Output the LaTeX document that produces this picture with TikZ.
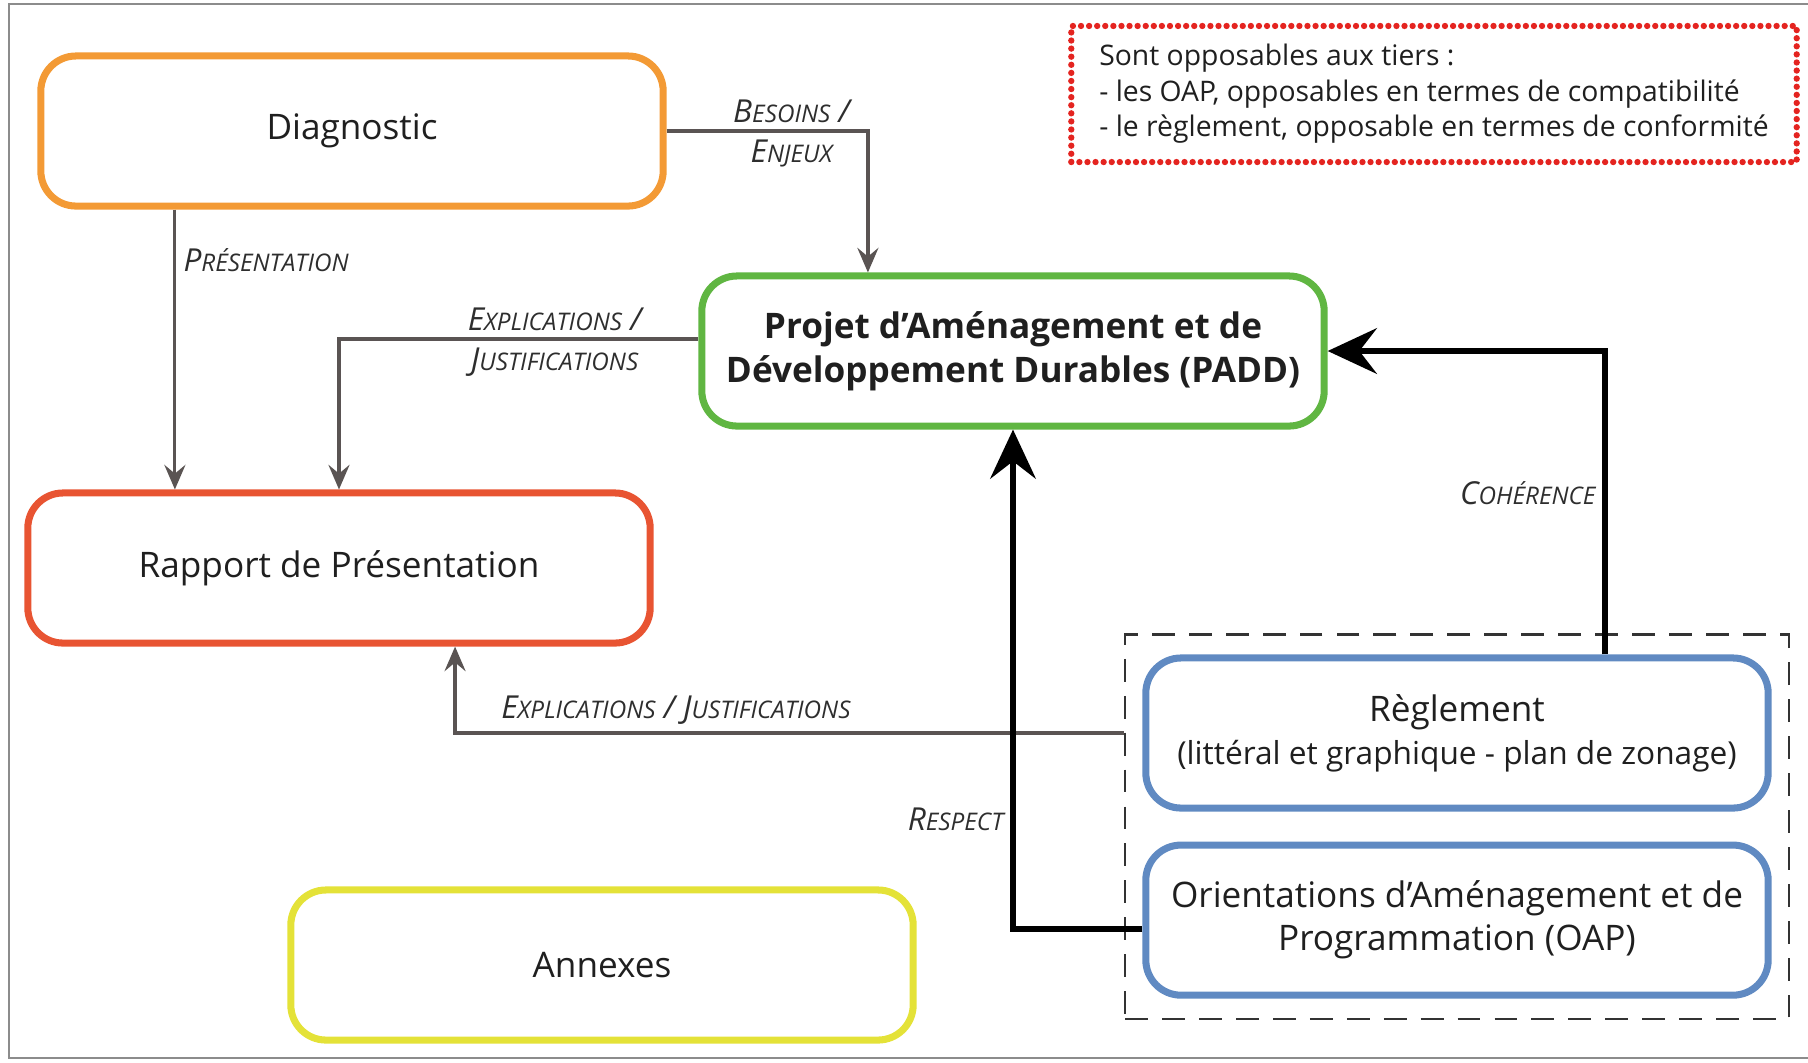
\documentclass[tikz,border=0pt]{standalone}
\usepackage{fontspec}
\setmainfont{Open Sans}
\usetikzlibrary{arrows.meta,positioning,fit}

\definecolor{diagorange}{RGB}{243,154,53}
\definecolor{paddvert}{RGB}{96,182,66}
\definecolor{rapportrouge}{RGB}{232,84,50}
\definecolor{annexjaune}{RGB}{228,226,56}
\definecolor{reglbleu}{RGB}{96,138,194}
\definecolor{liengris}{RGB}{90,84,83}
\definecolor{notarouge}{RGB}{228,36,32}

% fausses petites capitales pour les etiquettes
\newcommand{\pcap}[2]{#1{\fontsize{6.9}{8}\selectfont #2}}

\begin{document}
\begin{tikzpicture}[x=0.01cm, y=-0.01cm,
    bloc/.style={draw, line width=2pt, rounded corners=10pt, minimum width=6.22cm, minimum height=1.5cm, align=center, text=black!88, font=\fontsize{10}{12.2}\selectfont},
    lien/.style={draw=liengris, line width=0.9pt, -{Stealth[length=7pt, width=6pt, inset=2.5pt]}},
    fort/.style={draw=black, line width=1.5pt, -{Stealth[length=14pt, width=13pt, inset=5pt]}},
    etiq/.style={font=\itshape\fontsize{9}{11}\selectfont, text=black!82, inner sep=2pt}]

    \useasboundingbox (0,0) rectangle (1808,1062);
    \draw[black!45, line width=0.8pt] (9,4) rectangle (1812,1058);

    \node[bloc, draw=diagorange] (diag) at (352,131) {Diagnostic};
    \node[bloc, draw=paddvert, font=\bfseries\fontsize{10}{12.6}\selectfont] (padd) at (1013,351) {Projet d’Aménagement et de\\Développement Durables (PADD)};
    \node[bloc, draw=rapportrouge] (rapport) at (339,568) {Rapport de Présentation};
    \node[bloc, draw=annexjaune] (annexes) at (602,965) {Annexes};
    \node[bloc, draw=reglbleu] (regl) at (1457,733) {Règlement\\{\fontsize{9}{11}\selectfont (littéral et graphique - plan de zonage)}};
    \node[bloc, draw=reglbleu, below of=regl, node distance=1.87cm] (oap) {Orientations d’Aménagement et de\\Programmation (OAP)};

    \node[draw=black!80, line width=0.6pt, dash pattern=on 6.5pt off 4pt, fit=(regl)(oap), inner xsep=0.17cm, inner ysep=0.2cm] (groupe) {};

    \node[draw=notarouge, line width=1.8pt, dash pattern=on 0pt off 2.3pt, line cap=round, minimum width=7.25cm, minimum height=1.36cm, align=left, text=black!88, font=\fontsize{8.05}{10.1}\selectfont] (note) at (1434,94) {Sont opposables aux tiers :\\- les OAP, opposables en termes de compatibilité\\- le règlement, opposable en termes de conformité};

    \draw[lien] (diag.east) -| ([xshift=-1.45cm]padd.north)
        node[etiq, pos=0.31, above] {\pcap{B}{ESOINS} /}
        node[etiq, pos=0.31, below] {\pcap{E}{NJEUX}};
    \draw[lien] ([xshift=-1.77cm]diag.south) coordinate (p) -- (p |- rapport.north)
        node[etiq, pos=0.18, right] {\pcap{P}{RÉSENTATION}};
    \draw[lien] ([yshift=0.12cm]padd.west) -| (rapport.north)
        node[etiq, pos=0.2, above] {\pcap{E}{XPLICATIONS} /}
        node[etiq, pos=0.2, below] {\pcap{J}{USTIFICATIONS}};
    \draw[lien] (groupe.west |- regl) -| ([xshift=1.16cm]rapport.south)
        node[etiq, pos=0.335, above] {\pcap{E}{XPLICATIONS} / \pcap{J}{USTIFICATIONS}};

    \draw[fort] ([yshift=-0.09cm]oap.west) -| (padd.south)
        node[etiq, pos=0.61, left] {\pcap{R}{ESPECT}};
    \draw[fort] ([xshift=1.48cm]regl.north) |- (padd.east)
        node[etiq, pos=0.265, left] {\pcap{C}{OHÉRENCE}};
\end{tikzpicture}
\end{document}
